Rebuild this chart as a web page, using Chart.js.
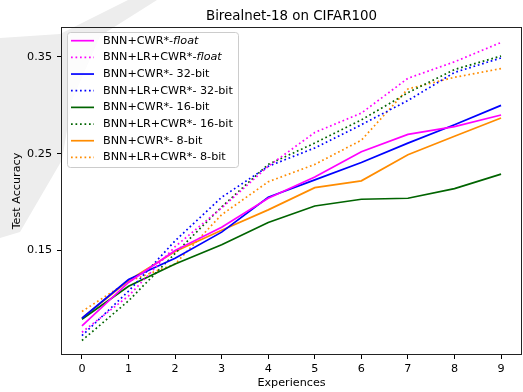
<!DOCTYPE html>
<html>
<head>
<meta charset="utf-8">
<script src="https://cdn.jsdelivr.net/npm/chart.js@4.4.0/dist/chart.umd.min.js"></script>
<style>
  html, body { margin: 0; padding: 0; background: #fff; }
  #wrap { width: 523px; height: 392px; }
</style>
</head>
<body>
<div id="wrap"><canvas id="acc-chart" width="523" height="392"></canvas></div>
<script>
// values
const experiences = [0, 1, 2, 3, 4, 5, 6, 7, 8, 9];
const yTicks = [0.15, 0.25, 0.35];

const cwrFloat = [0.072, 0.117, 0.150, 0.174, 0.204, 0.226, 0.252, 0.270, 0.278, 0.290];
const lrCwrFloat = [0.0655, 0.103, 0.154, 0.194, 0.237, 0.272, 0.292, 0.328, 0.345, 0.365];
const cwr32 = [0.080, 0.120, 0.142, 0.169, 0.205, 0.223, 0.241, 0.261, 0.280, 0.300];
const lrCwr32 = [0.062, 0.108, 0.160, 0.205, 0.237, 0.256, 0.280, 0.305, 0.334, 0.349];
const cwr16 = [0.079, 0.113, 0.136, 0.156, 0.179, 0.196, 0.203, 0.204, 0.214, 0.229];
const lrCwr16 = [0.057, 0.098, 0.147, 0.195, 0.239, 0.261, 0.285, 0.313, 0.337, 0.351];
const cwr8 = [0.080, 0.119, 0.149, 0.171, 0.192, 0.215, 0.222, 0.249, 0.268, 0.287];
const lrCwr8 = [0.087, 0.118, 0.136, 0.187, 0.221, 0.239, 0.264, 0.317, 0.329, 0.338];

const FONT = "'DejaVu Sans', sans-serif";
const FS = 11.2;

function series(label, values, color, dotted) {
  return {
    label: label,
    data: experiences.map((x, i) => ({ x: x, y: values[i] })),
    borderColor: color,
    backgroundColor: color,
    borderWidth: 1.7,
    borderDash: dotted ? [1.7, 2.8] : [],
    borderCapStyle: "butt",
    pointRadius: 0,
    tension: 0,
    fill: false,
  };
}

// faint grey brush stroke behind the figure (scan watermark)
const watermark = {
  id: "watermark",
  beforeDraw(chart) {
    const ctx = chart.ctx;
    ctx.save();
    ctx.fillStyle = "#ededed";
    ctx.beginPath();
    ctx.moveTo(128, 0);
    ctx.lineTo(157, 0);
    ctx.lineTo(100, 36);
    ctx.lineTo(72, 100);
    ctx.lineTo(62, 160);
    ctx.lineTo(20, 232);
    ctx.lineTo(0, 238);
    ctx.lineTo(0, 38);
    ctx.lineTo(60, 34);
    ctx.closePath();
    ctx.fill();
    ctx.restore();
  },
};

// title over the plot area, outer frame and the boxed legend
const decorations = {
  id: "decorations",
  afterDraw(chart) {
    const { ctx, chartArea: a } = chart;
    ctx.save();
    ctx.fillStyle = "#000";
    ctx.font = "13.4px " + FONT;
    ctx.textAlign = "center";
    ctx.textBaseline = "middle";
    ctx.fillText("Birealnet-18 on CIFAR100", (a.left + a.right) / 2, 16.5);

    ctx.strokeStyle = "#222";
    ctx.lineWidth = 1;
    ctx.strokeRect(Math.round(a.left) + 0.5, Math.round(a.top) + 0.5,
      Math.round(a.right - a.left) - 1, Math.round(a.bottom - a.top) - 1);

    // legend
    const bx = 67, by = 32, bw = 171, bh = 135;
    ctx.beginPath();
    ctx.roundRect(bx + 0.5, by + 0.5, bw, bh, 3);
    ctx.fillStyle = "rgba(255,255,255,0.8)";
    ctx.fill();
    ctx.strokeStyle = "#cccccc";
    ctx.stroke();

    chart.data.datasets.forEach((ds, i) => {
      const y = 40.7 + i * 16.67;
      ctx.beginPath();
      ctx.setLineDash(ds.borderDash);
      ctx.lineWidth = 1.7;
      ctx.strokeStyle = ds.borderColor;
      ctx.moveTo(71, y);
      ctx.lineTo(94, y);
      ctx.stroke();
      ctx.setLineDash([]);

      ctx.fillStyle = "#000";
      ctx.textAlign = "left";
      let text = ds.label;
      let x = 103;
      if (text.endsWith("float")) {
        const head = text.slice(0, -5);
        ctx.font = FS + "px " + FONT;
        ctx.fillText(head, x, y);
        x += ctx.measureText(head).width;
        ctx.font = "italic " + FS + "px " + FONT;
        ctx.fillText("float", x, y);
      } else {
        ctx.font = FS + "px " + FONT;
        ctx.fillText(text, x, y);
      }
    });
    ctx.restore();
  },
};

const ctx = document.getElementById("acc-chart").getContext("2d");
new Chart(ctx, {
  type: "line",
  data: {
    datasets: [
      series("BNN+CWR*-float", cwrFloat, "#ff00ff", false),
      series("BNN+LR+CWR*-float", lrCwrFloat, "#ff00ff", true),
      series("BNN+CWR*- 32-bit", cwr32, "#0000ff", false),
      series("BNN+LR+CWR*- 32-bit", lrCwr32, "#0000ff", true),
      series("BNN+CWR*- 16-bit", cwr16, "#006400", false),
      series("BNN+LR+CWR*- 16-bit", lrCwr16, "#006400", true),
      series("BNN+CWR*- 8-bit", cwr8, "#ff8c00", false),
      series("BNN+LR+CWR*- 8-bit", lrCwr8, "#ff8c00", true),
    ],
  },
  options: {
    responsive: false,
    animation: false,
    layout: { padding: { top: 27, right: 1, left: 0, bottom: 0 } },
    plugins: {
      legend: { display: false },
      tooltip: { enabled: false },
    },
    scales: {
      x: {
        type: "linear",
        min: -0.45,
        max: 9.45,
        afterBuildTicks: (scale) => {
          scale.ticks = experiences.map((v) => ({ value: v }));
        },
        afterFit: (scale) => { scale.height = 37; },
        grid: { drawOnChartArea: false, drawTicks: true, tickLength: 4, color: "#000" },
        border: { display: false },
        ticks: { color: "#000", padding: 3, font: { family: FONT, size: FS }, maxRotation: 0 },
        title: { display: true, text: "Experiences", color: "#000",
          font: { family: FONT, size: FS }, padding: { top: 0, bottom: 2.3 } },
      },
      y: {
        type: "linear",
        min: 0.042,
        max: 0.381,
        afterBuildTicks: (scale) => {
          scale.ticks = yTicks.map((v) => ({ value: v }));
        },
        afterFit: (scale) => { scale.width = 61; },
        grid: { drawOnChartArea: false, drawTicks: true, tickLength: 4, color: "#000" },
        border: { display: false },
        ticks: { color: "#000", padding: 5, font: { family: FONT, size: FS },
          callback: (v) => v.toFixed(2) },
        title: { display: true, text: "Test Accuracy", color: "#000",
          font: { family: FONT, size: FS }, padding: { top: 10.3, bottom: 0 } },
      },
    },
  },
  plugins: [watermark, decorations],
});
</script>
</body>
</html>
